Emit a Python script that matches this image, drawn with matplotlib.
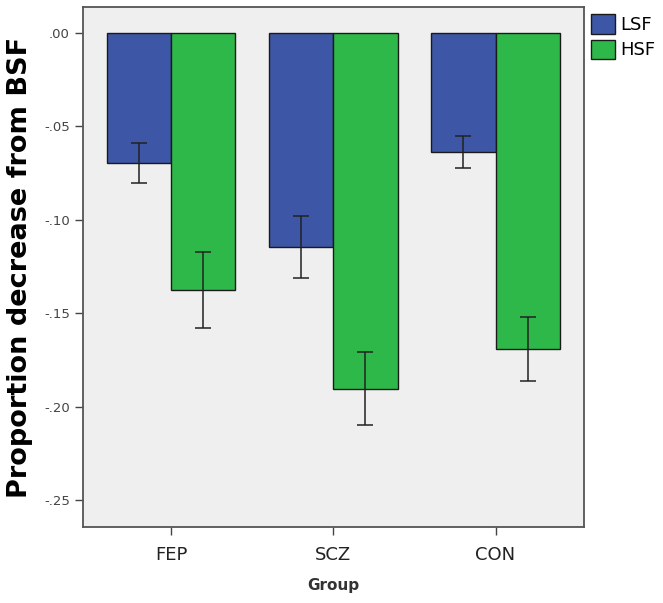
import numpy as np
import matplotlib
matplotlib.use("Agg")
import matplotlib.pyplot as plt
from matplotlib.ticker import FuncFormatter

# data
groups = ["FEP", "SCZ", "CON"]
series = ["LSF", "HSF"]
lsf_mean = [-0.0694, -0.1144, -0.0635]
hsf_mean = [-0.1376, -0.1906, -0.1692]
lsf_err_hi = [-0.0589, -0.0980, -0.0550]
lsf_err_lo = [-0.0801, -0.1310, -0.0721]
hsf_err_hi = [-0.1172, -0.1709, -0.1520]
hsf_err_lo = [-0.1580, -0.2101, -0.1864]
yticks = [0.0, -0.05, -0.10, -0.15, -0.20, -0.25]

BLUE = "#3D56A6"
GREEN = "#2FB84A"
BG = "#EFEFEF"

fig = plt.figure(figsize=(6.63, 6.03), dpi=100)
ax = fig.add_axes([83 / 663, 76 / 603, 501 / 663, 520 / 603])
ax.set_facecolor(BG)

x = np.arange(len(groups))
w = 0.396

means = [lsf_mean, hsf_mean]
his = [lsf_err_hi, hsf_err_hi]
los = [lsf_err_lo, hsf_err_lo]
cols = [BLUE, GREEN]
for k, name in enumerate(series):
	pos = x + (k - 0.5) * w
	m = np.array(means[k])
	ax.bar(pos, m, width=w, color=cols[k], edgecolor="#1a1a1a", linewidth=1.0, label=name, zorder=2)
	yerr = np.vstack([m - np.array(los[k]), np.array(his[k]) - m])
	ax.errorbar(pos, m, yerr=yerr, fmt="none", ecolor="#222222", elinewidth=1.1, capsize=5.8, capthick=1.1, zorder=3)

ax.set_xlim(-0.542, 2.545)
ax.set_ylim(-0.2645, 0.0139)
ax.set_xticks(x)
ax.set_xticklabels(groups, fontsize=13, color="#222222")
ax.set_yticks(yticks)
ax.yaxis.set_major_formatter(FuncFormatter(lambda v, p: ("%.2f" % v).replace("0.", ".").replace("-.00", ".00")))
ax.tick_params(axis="y", labelsize=9.5, labelcolor="#444444", length=6, width=1, color="#444444")
ax.tick_params(axis="x", length=6, width=1, color="#444444", pad=8)

for s in ax.spines.values():
	s.set_color("#555555")
	s.set_linewidth(1.3)

ax.set_ylabel("Proportion decrease from BSF", fontsize=19.5, fontweight="bold", labelpad=8)
ax.set_xlabel("Group", fontsize=11, fontweight="bold", color="#333333", labelpad=10)

ax.legend(loc="upper left", bbox_to_anchor=(1.0, 1.0), frameon=False, fontsize=13,
	handlelength=1.3, handleheight=1.3, handletextpad=0.3, labelspacing=0.3,
	borderaxespad=0.2, borderpad=0.2)

fig.savefig("out.png", dpi=100)
